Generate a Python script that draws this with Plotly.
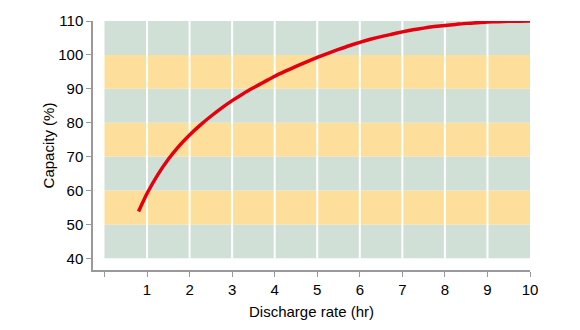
import plotly.graph_objects as go

# Data
rate_hr = [0.8, 0.9, 1.0, 1.25, 1.5, 1.75, 2.0, 2.25, 2.5, 2.75, 3.0, 3.25, 3.5, 3.75, 4.0,
           4.25, 4.5, 4.75, 5.0, 5.25, 5.5, 5.75, 6.0, 6.25, 6.5, 6.75, 7.0, 7.25, 7.5,
           7.75, 8.0, 8.25, 8.5, 8.75, 9.0, 9.25, 9.5, 9.75, 10.0]
capacity_pct = [53.8, 56.5, 59.1, 64.6, 69.2, 73.1, 76.4, 79.3, 81.9, 84.3, 86.5, 88.5, 90.3, 92.0, 93.7,
                95.2, 96.6, 97.95, 99.25, 100.45, 101.6, 102.7, 103.7, 104.6, 105.4, 106.1, 106.8, 107.4, 107.9,
                108.35, 108.7, 109.0, 109.3, 109.5, 109.7, 109.8, 109.9, 109.95, 110.0]
x_ticks = [0, 1, 2, 3, 4, 5, 6, 7, 8, 9, 10]
x_ticktext = ["", "1", "2", "3", "4", "5", "6", "7", "8", "9", "10"]
y_ticks = [40, 50, 60, 70, 80, 90, 100, 110]
band_edges = [40, 50, 60, 70, 80, 90, 100, 110]

GREEN = "#d0e0d7"
YELLOW = "#fddf9b"

fig = go.Figure()
fig.add_trace(go.Scatter(
    x=rate_hr, y=capacity_pct, mode="lines",
    line=dict(color="#e4000f", width=3.5, shape="spline", smoothing=0.6),
    hoverinfo="skip", showlegend=False,
))

shapes = []
for i in range(len(band_edges) - 1):
    shapes.append(dict(type="rect", xref="x", yref="y", layer="below",
                       x0=x_ticks[0], x1=x_ticks[-1], y0=band_edges[i], y1=band_edges[i + 1],
                       fillcolor=GREEN if i % 2 == 0 else YELLOW, line=dict(width=0)))
for xv in x_ticks[1:-1]:
    shapes.append(dict(type="line", xref="x", yref="y", layer="below",
                       x0=xv, x1=xv, y0=band_edges[0], y1=band_edges[-1],
                       line=dict(color="white", width=2)))

font = "Liberation Sans, Arial, Helvetica, sans-serif"
fig.update_layout(
    width=580, height=330,
    margin=dict(l=93, r=50, t=17, b=58),
    plot_bgcolor="white", paper_bgcolor="white",
    shapes=shapes,
    font=dict(family=font, size=15, color="black"),
    xaxis=dict(range=[-0.27, 10], tickvals=x_ticks, ticktext=x_ticktext,
               showgrid=False, zeroline=False, showline=True, linecolor="#999999",
               linewidth=1.5, ticks="outside", ticklen=5, tickcolor="#999999",
               title=dict(text="Discharge rate (hr)", standoff=10, font=dict(size=15))),
    yaxis=dict(range=[36.54, 110], tickvals=y_ticks,
               showgrid=False, zeroline=False, showline=True, linecolor="#999999",
               linewidth=1.5, ticks="outside", ticklen=5, tickcolor="#999999",
               title=dict(text="Capacity (%)", standoff=0, font=dict(size=15))),
)

fig.write_html("out.html")
